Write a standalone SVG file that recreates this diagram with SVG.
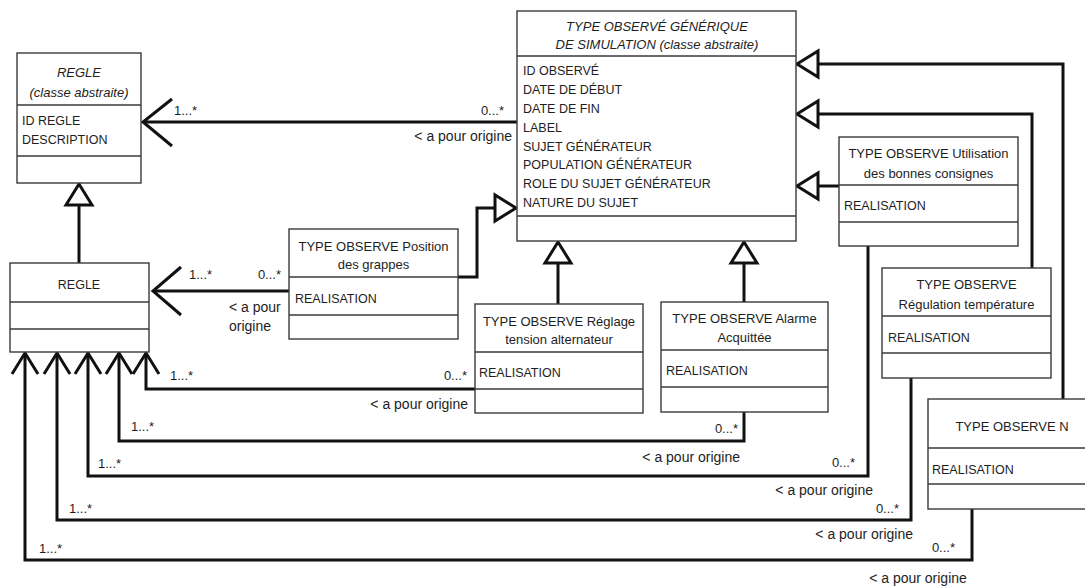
<svg xmlns="http://www.w3.org/2000/svg" width="1085" height="587" viewBox="0 0 1085 587">
<style>
text{font-family:"Liberation Sans",Arial,sans-serif;font-size:13px;fill:#1e1e1e}
.t{text-anchor:middle}
.i{font-style:italic}
.a{font-size:12.5px}
.e{text-anchor:end}
.box{fill:#fff;stroke:#3a3a3a;stroke-width:1.4}
.div{stroke:#3a3a3a;stroke-width:1.4}
.c{fill:none;stroke:#111;stroke-width:3;stroke-linejoin:miter}
.tri{fill:#fff;stroke:#111;stroke-width:3}
.lbl{font-size:14px}
</style>
<rect width="1085" height="587" fill="#fff"/>
<g id="connectors">
  <!-- generic -> REGLE abstract -->
  <line class="c" x1="517" y1="122" x2="143" y2="122"/>
  <polyline class="c" points="172,99 143,122 172,146"/>
  <text x="174" y="115">1...*</text>
  <text class="e" x="504" y="115">0...*</text>
  <text class="e lbl" x="512" y="141">&lt; a pour origine</text>
  <!-- REGLE -> REGLE abstract -->
  <line class="c" x1="79" y1="263" x2="79" y2="205"/>
  <polygon class="tri" points="79,184 66,205 92,205"/>
  <!-- Position -> REGLE -->
  <line class="c" x1="289" y1="291" x2="153" y2="291"/>
  <polyline class="c" points="181,267 153,291 181,315"/>
  <text x="189" y="279">1...*</text>
  <text class="e" x="281" y="279">0...*</text>
  <text class="lbl" x="229" y="312">&lt; a pour</text>
  <text class="lbl" x="229" y="331">origine</text>
  <!-- Position -> generic -->
  <polyline class="c" points="458,277 477,277 477,208 495,208"/>
  <polygon class="tri" points="516,208 495,195 495,221"/>
  <!-- Reglage -> generic -->
  <line class="c" x1="558" y1="304" x2="558" y2="263"/>
  <polygon class="tri" points="558,242 545,263 571,263"/>
  <!-- Alarme -> generic -->
  <line class="c" x1="744" y1="302" x2="744" y2="263"/>
  <polygon class="tri" points="744,242 731,263 757,263"/>
  <!-- Utilisation -> generic -->
  <line class="c" x1="839" y1="186" x2="818" y2="186"/>
  <polygon class="tri" points="797,186 818,173 818,199"/>
  <!-- Regulation -> generic -->
  <polyline class="c" points="1032,268 1032,114 818,114"/>
  <polygon class="tri" points="797,114 818,101 818,127"/>
  <!-- N -> generic -->
  <polyline class="c" points="1063,399 1063,64 818,64"/>
  <polygon class="tri" points="797,64 818,51 818,77"/>
  <!-- Reglage -> REGLE -->
  <polyline class="c" points="475,389 146,389 146,354"/>
  <polyline class="c" points="133,374 146,353 159,374"/>
  <text x="170" y="380">1...*</text>
  <text class="e" x="467" y="380">0...*</text>
  <text class="e lbl" x="468" y="409">&lt; a pour origine</text>
  <!-- Alarme -> REGLE -->
  <polyline class="c" points="744,412 744,441 119,441 119,354"/>
  <polyline class="c" points="106,374 119,353 132,374"/>
  <text x="131" y="431">1...*</text>
  <text class="e" x="738" y="433">0...*</text>
  <text class="e lbl" x="740" y="462">&lt; a pour origine</text>
  <!-- Utilisation -> REGLE -->
  <polyline class="c" points="868,246 868,476 88,476 88,354"/>
  <polyline class="c" points="75,374 88,353 101,374"/>
  <text x="98" y="468">1...*</text>
  <text class="e" x="855" y="467">0...*</text>
  <text class="e lbl" x="873" y="495">&lt; a pour origine</text>
  <!-- Regulation -> REGLE -->
  <polyline class="c" points="911,378 911,520 57,520 57,354"/>
  <polyline class="c" points="44,374 57,353 70,374"/>
  <text x="69" y="513">1...*</text>
  <text class="e" x="899" y="513">0...*</text>
  <text class="e lbl" x="913" y="539">&lt; a pour origine</text>
  <!-- N -> REGLE -->
  <polyline class="c" points="972,509 972,560 25,560 25,354"/>
  <polyline class="c" points="12,374 25,353 38,374"/>
  <text x="39" y="553">1...*</text>
  <text class="e" x="955" y="552">0...*</text>
  <text class="t lbl" x="918" y="583">&lt; a pour origine</text>
</g>
<g id="regle-abstraite">
  <rect class="box" x="17" y="53" width="124" height="130"/>
  <line class="div" x1="17" y1="105" x2="141" y2="105"/>
  <line class="div" x1="17" y1="156" x2="141" y2="156"/>
  <text class="t i" x="79" y="77">REGLE</text>
  <text class="t i" x="79" y="97">(classe abstraite)</text>
  <text class="a" x="22" y="125">ID REGLE</text>
  <text class="a" x="22" y="144">DESCRIPTION</text>
</g>
<g id="type-generique">
  <rect class="box" x="517" y="11" width="279" height="230"/>
  <line class="div" x1="517" y1="56" x2="796" y2="56"/>
  <line class="div" x1="517" y1="216" x2="796" y2="216"/>
  <text class="t i" x="657" y="31">TYPE OBSERVÉ GÉNÉRIQUE</text>
  <text class="t i" x="657" y="49">DE SIMULATION (classe abstraite)</text>
  <text class="a" x="523" y="75">ID OBSERVÉ</text>
  <text class="a" x="523" y="94">DATE DE DÉBUT</text>
  <text class="a" x="523" y="113">DATE DE FIN</text>
  <text class="a" x="523" y="132">LABEL</text>
  <text class="a" x="523" y="151">SUJET GÉNÉRATEUR</text>
  <text class="a" x="523" y="169">POPULATION GÉNÉRATEUR</text>
  <text class="a" x="523" y="188">ROLE DU SUJET GÉNÉRATEUR</text>
  <text class="a" x="523" y="207">NATURE DU SUJET</text>
</g>
<g id="regle">
  <rect class="box" x="10" y="263" width="139" height="89"/>
  <line class="div" x1="10" y1="302" x2="149" y2="302"/>
  <line class="div" x1="10" y1="329" x2="149" y2="329"/>
  <text class="t a" x="79" y="289">REGLE</text>
</g>
<g id="type-position">
  <rect class="box" x="289" y="229" width="169" height="110"/>
  <line class="div" x1="289" y1="277" x2="458" y2="277"/>
  <line class="div" x1="289" y1="315" x2="458" y2="315"/>
  <text class="t" x="373.5" y="251">TYPE OBSERVE Position</text>
  <text class="t" x="373.5" y="269">des grappes</text>
  <text class="a" x="295" y="303">REALISATION</text>
</g>
<g id="type-reglage">
  <rect class="box" x="475" y="304" width="168" height="109"/>
  <line class="div" x1="475" y1="352" x2="643" y2="352"/>
  <line class="div" x1="475" y1="389" x2="643" y2="389"/>
  <text class="t" x="559" y="326">TYPE OBSERVE Réglage</text>
  <text class="t" x="559" y="344">tension alternateur</text>
  <text class="a" x="479" y="377">REALISATION</text>
</g>
<g id="type-alarme">
  <rect class="box" x="661" y="302" width="167" height="110"/>
  <line class="div" x1="661" y1="350" x2="828" y2="350"/>
  <line class="div" x1="661" y1="387" x2="828" y2="387"/>
  <text class="t" x="744.5" y="323">TYPE OBSERVE Alarme</text>
  <text class="t" x="744.5" y="342">Acquittée</text>
  <text class="a" x="666" y="375">REALISATION</text>
</g>
<g id="type-utilisation">
  <rect class="box" x="839" y="137" width="179" height="109"/>
  <line class="div" x1="839" y1="185" x2="1018" y2="185"/>
  <line class="div" x1="839" y1="222" x2="1018" y2="222"/>
  <text class="t" x="928.5" y="158">TYPE OBSERVE Utilisation</text>
  <text class="t" x="928.5" y="178">des bonnes consignes</text>
  <text class="a" x="844" y="210">REALISATION</text>
</g>
<g id="type-regulation">
  <rect class="box" x="882" y="268" width="169" height="110"/>
  <line class="div" x1="882" y1="316" x2="1051" y2="316"/>
  <line class="div" x1="882" y1="353" x2="1051" y2="353"/>
  <text class="t" x="966.5" y="289">TYPE OBSERVE</text>
  <text class="t" x="966.5" y="309">Régulation température</text>
  <text class="a" x="888" y="342">REALISATION</text>
</g>
<g id="type-n">
  <rect class="box" x="928" y="399" width="168" height="110"/>
  <line class="div" x1="928" y1="448" x2="1096" y2="448"/>
  <line class="div" x1="928" y1="484" x2="1096" y2="484"/>
  <text class="t" x="1012" y="431">TYPE OBSERVE N</text>
  <text class="a" x="932" y="474">REALISATION</text>
</g>
</svg>
